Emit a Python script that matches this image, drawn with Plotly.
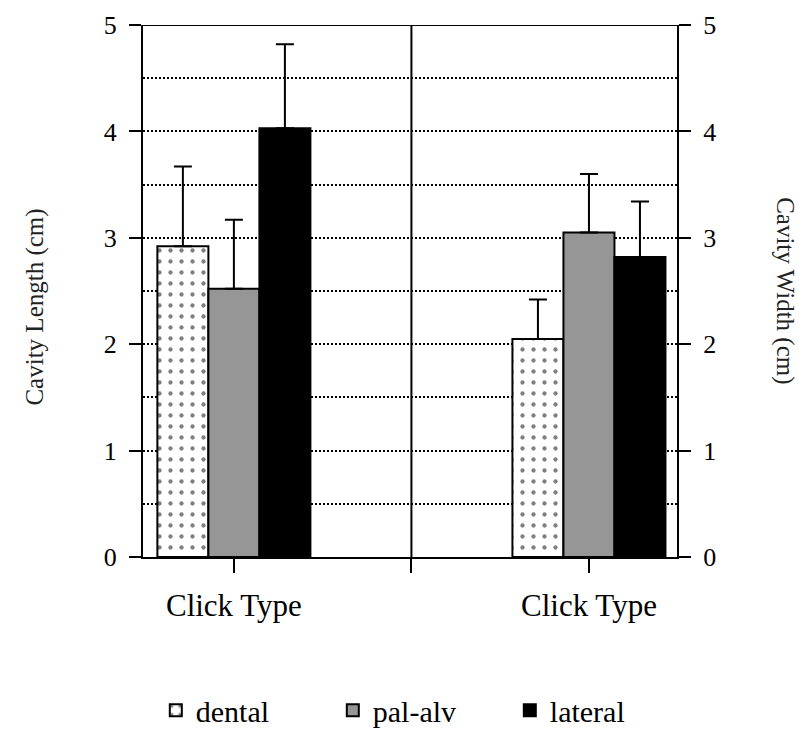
import plotly.graph_objects as go

# Cavity measurements by click type (cm); upper error only
measures = ["Length", "Width"]
click_types = ["dental", "pal-alv", "lateral"]
length_vals = [2.92, 2.52, 4.03]
length_err = [0.75, 0.65, 0.79]
width_vals = [2.05, 3.05, 2.82]
width_err = [0.37, 0.55, 0.52]
y_ticks = [0, 1, 2, 3, 4, 5]
x_tick_labels = ["Click Type", "", "Click Type"]

SERIF = "Liberation Serif"

styles = {
    "dental": dict(color="white",
                   pattern=dict(shape=".", fgcolor="black", bgcolor="white",
                                size=11, solidity=0.12, fillmode="overlay")),
    "pal-alv": dict(color="#969696"),
    "lateral": dict(color="black"),
}

fig = go.Figure()

for i, name in enumerate(click_types):
    fig.add_trace(go.Bar(
        x=[measures[0]], y=[length_vals[i]], name=name, legendgroup=name,
        marker=dict(line=dict(color="black", width=2), **styles[name]),
        error_y=dict(type="data", symmetric=False, array=[length_err[i]],
                     arrayminus=[0], color="black", thickness=2, width=9),
        yaxis="y", showlegend=True,
    ))
for i, name in enumerate(click_types):
    fig.add_trace(go.Bar(
        x=[measures[1]], y=[width_vals[i]], name=name, legendgroup=name,
        marker=dict(line=dict(color="black", width=2), **styles[name]),
        error_y=dict(type="data", symmetric=False, array=[width_err[i]],
                     arrayminus=[0], color="black", thickness=2, width=9),
        yaxis="y2", showlegend=False,
    ))

axis_font = dict(family=SERIF, size=26, color="black")

fig.update_layout(
    width=799, height=730,
    margin=dict(l=143, r=122, t=25, b=173, autoexpand=False),
    paper_bgcolor="white", plot_bgcolor="white",
    font=dict(family=SERIF, color="black"),
    barmode="group", bargap=0.569, bargroupgap=0,
    showlegend=True,
    legend=dict(orientation="h", xref="container", yref="container",
                x=0.195, xanchor="left", y=0.027, yanchor="middle",
                font=dict(family=SERIF, size=30, color="black"),
                entrywidth=132, bgcolor="rgba(0,0,0,0)"),
    xaxis=dict(
        type="category", categoryorder="array", categoryarray=measures,
        range=[-0.256, 1.248],
        tickmode="array", tickvals=[0, 0.5, 1], ticktext=x_tick_labels,
        ticks="outside", ticklen=14, tickwidth=2, tickcolor="black",
        showline=True, linewidth=2, linecolor="black",
        showgrid=False, zeroline=False,
        tickfont=dict(family=SERIF, size=31, color="black"),
        ticklabelstandoff=6,
    ),
    yaxis=dict(
        range=[0, 5], tickmode="array", tickvals=y_ticks,
        ticks="outside", ticklen=12, tickwidth=2, tickcolor="black",
        showline=True, linewidth=2, linecolor="black",
        showgrid=True, gridcolor="black", gridwidth=2, griddash="2px,2px",
        minor=dict(dtick=0.5, tick0=0, showgrid=True, gridcolor="black",
                   gridwidth=2, griddash="2px,2px", ticks=""),
        zeroline=False, tickfont=axis_font, ticklabelstandoff=7,
    ),
    yaxis2=dict(
        overlaying="y", side="right", range=[0, 5],
        tickmode="array", tickvals=y_ticks,
        ticks="outside", ticklen=12, tickwidth=2, tickcolor="black",
        showline=True, linewidth=2, linecolor="black",
        showgrid=False, zeroline=False, tickfont=axis_font,
        ticklabelstandoff=7,
    ),
)

# frame top and the divider between the two panels
fig.add_shape(type="line", xref="paper", yref="y", x0=0, x1=1, y0=5, y1=5,
              line=dict(color="black", width=2))
fig.add_shape(type="line", xref="x", yref="y", x0=0.5, x1=0.5, y0=0, y1=5,
              line=dict(color="black", width=2), layer="above")

title_font = dict(family=SERIF, size=25, color="#222222")
fig.add_annotation(text="Cavity Length (cm)", xref="paper", yref="paper",
                   x=-0.203, y=0.47, textangle=-90, showarrow=False,
                   font=title_font, xanchor="center", yanchor="middle")
fig.add_annotation(text="Cavity Width (cm)", xref="paper", yref="paper",
                   x=1.202, y=0.50, textangle=90, showarrow=False,
                   font=title_font, xanchor="center", yanchor="middle")

fig.write_html("out.html")
